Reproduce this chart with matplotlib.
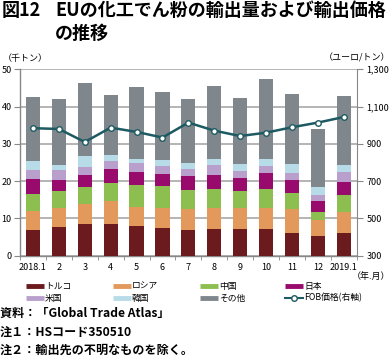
import numpy as np
import matplotlib
matplotlib.use("Agg")
import matplotlib.pyplot as plt
from matplotlib.lines import Line2D

plt.rcParams["font.family"] = ["Noto Sans CJK JP", "DejaVu Sans"]

months = ["2018.1", "2", "3", "4", "5", "6", "7", "8", "9", "10", "11", "12", "2019.1"]

turkey = [6.9, 7.8, 8.6, 8.6, 8.1, 7.4, 6.9, 7.2, 7.2, 7.2, 6.2, 5.4, 6.2]
russia = [5.2, 4.9, 5.4, 6.2, 5.0, 5.4, 5.7, 5.5, 5.7, 5.5, 6.2, 4.3, 5.5]
china = [4.4, 4.7, 4.3, 4.8, 5.9, 5.8, 5.0, 5.1, 4.5, 5.1, 4.3, 2.0, 4.6]
japan = [4.0, 2.9, 3.3, 3.7, 3.5, 3.3, 3.9, 3.8, 3.5, 4.5, 3.6, 3.0, 3.6]
usa = [2.5, 2.7, 2.1, 2.2, 2.3, 2.2, 1.7, 2.7, 1.8, 1.8, 2.0, 1.6, 2.6]
korea = [2.4, 1.2, 3.1, 1.6, 1.2, 1.6, 1.6, 1.7, 1.9, 1.8, 2.2, 2.2, 1.8]
others = [17.1, 17.8, 19.5, 16.0, 19.2, 18.3, 17.1, 19.6, 17.6, 21.6, 19.0, 15.6, 18.5]
fob_price = [984, 980, 910, 987, 964, 934, 1014, 971, 942, 960, 989, 1014, 1044]

series = [turkey, russia, china, japan, usa, korea, others]
names = ["トルコ", "ロシア", "中国", "日本", "米国", "韓国", "その他"]
colors = ["#6b1a1e", "#e2995b", "#8cbf4f", "#980a6c", "#b9a0cc", "#b8dbe8", "#7f868c"]
line_color = "#1d5a61"
grid_color = "#a8a8a8"

fig = plt.figure(figsize=(3.91, 3.63), dpi=100)
W, H = 391, 363
ax = fig.add_axes([20 / W, 1 - 255.7 / H, 336.7 / W, 186.4 / H])

x = np.arange(len(months))
bottom = np.zeros(len(months))
for vals, col in zip(series, colors):
    ax.bar(x, vals, width=0.55, bottom=bottom, color=col, zorder=3)
    bottom += np.array(vals)

ax.set_xlim(-0.5, len(months) - 0.5)
ax.set_ylim(0, 50)
ax.set_yticks(range(0, 51, 10))
ax.yaxis.grid(True, color=grid_color, linewidth=1.2, zorder=0)
ax.set_xticks(x)
ax.set_xticklabels(months)
ax.set_xticks(np.arange(-0.5, len(months), 1), minor=True)
ax.tick_params(axis="x", which="major", length=0, pad=5, labelsize=6.5)
ax.tick_params(axis="x", which="minor", length=3, color="#888888", direction="out")
ax.tick_params(axis="y", length=4, color="#888888", labelsize=6.5, pad=2)
for s in ["top", "right"]:
    ax.spines[s].set_visible(False)
for s in ["left", "bottom"]:
    ax.spines[s].set_color("#888888")
    ax.spines[s].set_linewidth(1.0)

ax2 = ax.twinx()
ax2.set_ylim(300, 1300)
ax2.set_yticks(range(300, 1301, 200))
ax2.set_yticklabels([f"{v:,}" for v in range(300, 1301, 200)])
ax2.tick_params(axis="y", length=4, color="#888888", labelsize=6.5, pad=3)
for s in ["top", "left", "bottom"]:
    ax2.spines[s].set_visible(False)
ax2.spines["right"].set_color("#888888")
ax2.plot(x, fob_price, color=line_color, linewidth=1.8, marker="o",
         markersize=4, markerfacecolor="white", markeredgecolor=line_color,
         markeredgewidth=1.0, zorder=5)

# 単位
fig.text(3 / W, 1 - 58 / H, "（千トン）", fontsize=6.5, va="center", ha="left")
fig.text(390 / W, 1 - 58 / H, "（ユーロ/トン）", fontsize=6.5, va="center", ha="right")
fig.text(390 / W, 1 - 276 / H, "（年.月）", fontsize=6.5, va="center", ha="right")

# タイトル
fig.text(2 / W, 1 - 10 / H, "図12", fontsize=13, fontweight="bold", va="center", ha="left")
fig.text(55 / W, 1 - 10 / H, "EUの化工でん粉の輸出量および輸出価格", fontsize=13,
         fontweight="bold", va="center", ha="left")
fig.text(55 / W, 1 - 33 / H, "の推移", fontsize=13, fontweight="bold", va="center", ha="left")

# 凡例
leg_labels = names + ["FOB価格(右軸)"]
col_x = [26, 113, 200, 285]
row_y = [286, 298]
for i, lab in enumerate(leg_labels):
    cx = col_x[i % 4]
    cy = row_y[i // 4]
    if i < len(colors):
        fig.add_artist(Line2D([cx / W, (cx + 18) / W], [1 - cy / H, 1 - cy / H],
                              color=colors[i], linewidth=3.5, solid_capstyle="butt"))
    else:
        fig.add_artist(Line2D([cx / W, (cx + 18) / W], [1 - cy / H, 1 - cy / H],
                              color=line_color, linewidth=1.5))
        fig.add_artist(Line2D([(cx + 9) / W], [1 - cy / H], marker="o", markersize=4,
                              markerfacecolor="white", markeredgecolor=line_color,
                              markeredgewidth=1.0))
    fig.text((cx + 19) / W, 1 - cy / H, lab, fontsize=6.3, va="center", ha="left")

# 注記
notes = ["資料：「Global Trade Atlas」", "注１：HSコード350510", "注２：輸出先の不明なものを除く。"]
for yy, t in zip([313, 332, 350], notes):
    fig.text(0 / W, 1 - yy / H, t, fontsize=8.7, fontweight="bold", va="center", ha="left")

fig.savefig("out.png", dpi=100)
